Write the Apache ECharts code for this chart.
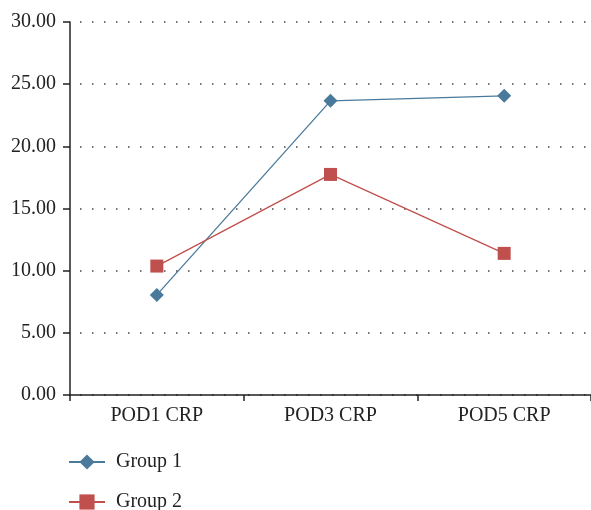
<!DOCTYPE html>
<html>
<head>
<meta charset="utf-8">
<script src="https://cdn.jsdelivr.net/npm/echarts@6/dist/echarts.min.js"></script>
<style>
  html, body { margin: 0; padding: 0; background: #fff; }
  #chart { width: 591px; height: 510px; }
</style>
</head>
<body>
<div id="chart"></div>
<script>
var categories = ['POD1 CRP', 'POD3 CRP', 'POD5 CRP'];
var group1 = [8.05, 23.66, 24.06];
var group2 = [10.37, 17.74, 11.39];
var yTicks = [0, 5, 10, 15, 20, 25, 30];

var font = '"Liberation Serif", "DejaVu Serif", serif';
var chart = echarts.init(document.getElementById('chart'));

// one legend per item so they stack like the original
function legendFor(name, top) {
    return {
        orient: 'vertical',
        left: 68,
        top: top,
        padding: 0,
        itemWidth: 36,
        itemHeight: 19,
        textStyle: { fontFamily: font, fontSize: 20, color: '#222', padding: [0, 0, 0, 6] },
        data: [name]
    };
}

var option = {
    animation: false,
    textStyle: { fontFamily: font },
    grid: { left: 70, right: 0, top: 22, bottom: 115 },
    legend: [legendFor('Group 1', 452), legendFor('Group 2', 492)],
    xAxis: {
        type: 'category',
        data: categories,
        boundaryGap: true,
        z: 5,
        axisLine: { lineStyle: { color: '#222', width: 1.5 } },
        axisTick: { show: true, length: 6, lineStyle: { color: '#222', width: 1.5 } },
        axisLabel: { fontFamily: font, fontSize: 20, color: '#222', margin: 11 }
    },
    yAxis: {
        type: 'value',
        min: yTicks[0],
        max: yTicks[yTicks.length - 1],
        interval: 5,
        axisLine: { show: true, lineStyle: { color: '#222', width: 1.5 } },
        axisTick: { show: true, length: 7, lineStyle: { color: '#222', width: 1.5 } },
        axisLabel: {
            fontFamily: font, fontSize: 20, color: '#222', margin: 14,
            formatter: function(v) { return v.toFixed(2); }
        },
        splitLine: {
            show: true,
            lineStyle: { color: '#444', width: 1.5, type: [1.5, 10.5], dashOffset: -10 }
        }
    },
    series: [{
        name: 'Group 1',
        type: 'line',
        data: group1,
        symbol: 'diamond',
        symbolSize: 14,
        color: '#4a7a9b',
        lineStyle: { width: 1.3, color: '#4a7a9b' },
        itemStyle: { color: '#4a7a9b' }
    }, {
        name: 'Group 2',
        type: 'line',
        data: group2,
        symbol: 'rect',
        symbolSize: 13,
        color: '#c0504d',
        lineStyle: { width: 1.3, color: '#c0504d' },
        itemStyle: { color: '#c0504d' }
    }]
};

chart.setOption(option);
</script>
</body>
</html>
